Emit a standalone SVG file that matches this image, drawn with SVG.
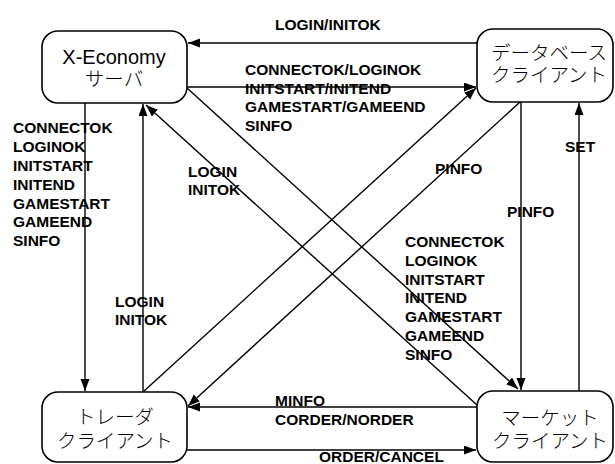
<svg xmlns="http://www.w3.org/2000/svg" width="615" height="464" viewBox="0 0 615 464">
<style>
.box{fill:#fff;stroke:#000;stroke-width:1.6}
.n{font-family:"Liberation Sans","Noto Sans CJK JP",sans-serif;font-size:20px;fill:#000;text-anchor:middle}
.j{font-family:"Liberation Sans","Noto Sans CJK JP",sans-serif;font-size:19.5px;fill:#000;text-anchor:middle;font-weight:300}
.l{font-family:"Liberation Sans",Arial,sans-serif;font-size:15.5px;font-weight:bold;fill:#000}
.c{fill:none;stroke:#000;stroke-width:1.4}
</style>
<defs>
<marker id="ah" markerUnits="userSpaceOnUse" markerWidth="13" markerHeight="10" refX="12" refY="4.5" orient="auto">
<path d="M0,0 L12,4.5 L0,9 z" fill="#000"/>
</marker>
</defs>
<g id="connectors">
<path class="c" d="M477,43 L188,43" marker-end="url(#ah)"/>
<path class="c" d="M187,87 L476,87" marker-end="url(#ah)"/>
<path class="c" d="M85,103 L85,391" marker-end="url(#ah)"/>
<path class="c" d="M143,392 L143,104" marker-end="url(#ah)"/>
<path class="c" d="M477,405 L146,105" marker-end="url(#ah)"/>
<path class="c" d="M187,88 L518,389" marker-end="url(#ah)"/>
<path class="c" d="M143,392 L476,88" marker-end="url(#ah)"/>
<path class="c" d="M520,102 L188,406" marker-end="url(#ah)"/>
<path class="c" d="M521,102 L521,390" marker-end="url(#ah)"/>
<path class="c" d="M579,391 L579,103" marker-end="url(#ah)"/>
<path class="c" d="M477,407 L188,407" marker-end="url(#ah)"/>
<path class="c" d="M187,450 L476,450" marker-end="url(#ah)"/>
</g>
<g id="labels">
<text class="l" x="275" y="29.5">LOGIN/INITOK</text>
<text class="l" x="245" y="75">CONNECTOK/LOGINOK</text>
<text class="l" x="245" y="93.5">INITSTART/INITEND</text>
<text class="l" x="245" y="112">GAMESTART/GAMEEND</text>
<text class="l" x="245" y="130.5">SINFO</text>
<text class="l" x="13" y="133">CONNECTOK</text>
<text class="l" x="13" y="152">LOGINOK</text>
<text class="l" x="13" y="171">INITSTART</text>
<text class="l" x="13" y="190">INITEND</text>
<text class="l" x="13" y="208.5">GAMESTART</text>
<text class="l" x="13" y="227">GAMEEND</text>
<text class="l" x="13" y="246">SINFO</text>
<text class="l" x="188" y="177">LOGIN</text>
<text class="l" x="188" y="195">INITOK</text>
<text class="l" x="115" y="307">LOGIN</text>
<text class="l" x="115" y="325">INITOK</text>
<text class="l" x="435" y="174">PINFO</text>
<text class="l" x="507" y="217">PINFO</text>
<text class="l" x="565" y="152">SET</text>
<text class="l" x="405" y="247">CONNECTOK</text>
<text class="l" x="405" y="266">LOGINOK</text>
<text class="l" x="405" y="284.5">INITSTART</text>
<text class="l" x="405" y="303">INITEND</text>
<text class="l" x="405" y="322">GAMESTART</text>
<text class="l" x="405" y="341">GAMEEND</text>
<text class="l" x="405" y="359.5">SINFO</text>
<text class="l" x="275" y="406">MINFO</text>
<text class="l" x="275" y="425">CORDER/NORDER</text>
<text class="l" x="319" y="461.5">ORDER/CANCEL</text>
</g>
<g id="server">
<rect class="box" x="42" y="31" width="145" height="72" rx="16"/>
<text class="n" x="114" y="64">X-Economy</text>
<text class="j" x="114" y="85.5">サーバ</text>
</g>
<g id="db">
<rect class="box" x="477" y="29" width="136" height="73" rx="16"/>
<text class="j" x="549" y="60">データベース</text>
<text class="j" x="549" y="82">クライアント</text>
</g>
<g id="trader">
<rect class="box" x="42" y="392" width="145" height="70" rx="16"/>
<text class="j" x="115" y="424">トレーダ</text>
<text class="j" x="115" y="448">クライアント</text>
</g>
<g id="market">
<rect class="box" x="477" y="391" width="136" height="71" rx="16"/>
<text class="j" x="550" y="425">マーケット</text>
<text class="j" x="550" y="448">クライアント</text>
</g>
</svg>
